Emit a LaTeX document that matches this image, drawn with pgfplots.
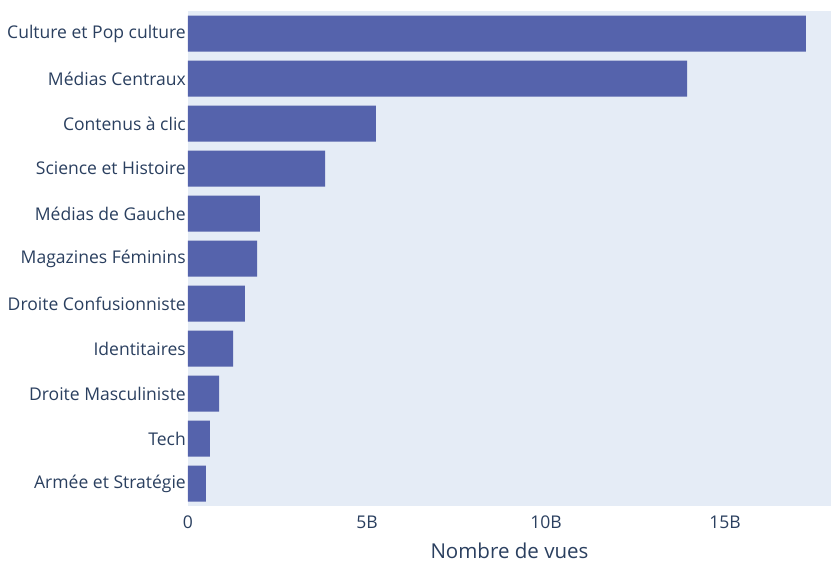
\documentclass[border=0pt]{standalone}
\usepackage{pgfplots}
\pgfplotsset{compat=1.18}
\usepackage{fontspec}
\setmainfont{Open Sans}
\definecolor{bgc}{RGB}{229,236,246}
\definecolor{barc}{RGB}{85,99,172}
\definecolor{txt}{RGB}{42,63,95}
\begin{document}
\begin{tikzpicture}
\begin{axis}[
  at={(0,0)}, anchor=south west,
  scale only axis, width=643bp, height=495bp,
  xbar, bar width=0.8,
  xmin=0, xmax=17.96,
  ymin=-0.5, ymax=10.5, y dir=reverse,
  ytick={0,...,10},
  yticklabels={Culture et Pop culture, Médias Centraux, Contenus à clic, Science et Histoire, Médias de Gauche, Magazines Féminins, Droite Confusionniste, Identitaires, Droite Masculiniste, Tech, Armée et Stratégie},
  xtick={0,5,10,15},
  xticklabels={0,5B,10B,15B},
  major tick length=0pt,
  axis line style={draw=none},
  axis background/.style={fill=bgc},
  ticklabel style={font=\fontsize{17.6}{20}\selectfont, text=txt},
  yticklabel style={anchor=east, inner sep=0pt, xshift=-2bp},
  xticklabel style={anchor=base, inner sep=0pt, yshift=-22bp},
  xlabel={Nombre de vues},
  xlabel style={at={(rel axis cs:0.5,0)}, anchor=base, yshift=-52bp, font=\fontsize{20.6}{24}\selectfont, text=txt},
  clip=false,
]
\addplot[draw=none, fill=barc] coordinates {
  (17.26,0) (13.94,1) (5.25,2) (3.83,3) (2.01,4) (1.93,5) (1.59,6) (1.26,7) (0.87,8) (0.61,9) (0.50,10)
};
\end{axis}
\pgfresetboundingbox
\path[use as bounding box] (-188bp,-57bp) rectangle (643bp,506bp);
\end{tikzpicture}
\end{document}
